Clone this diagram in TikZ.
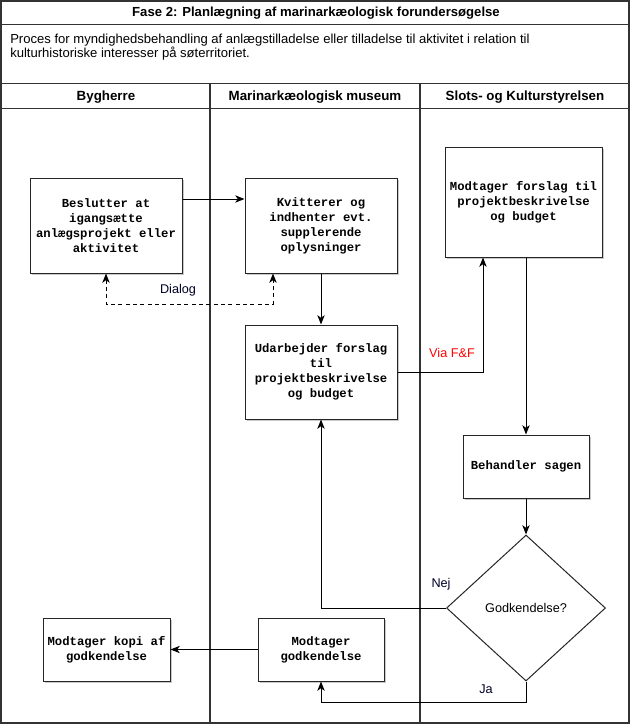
\documentclass[tikz,border=0pt]{standalone}
\usepackage{fontspec}
\setmainfont{Liberation Sans}
\newfontfamily\monofam{Liberation Mono}
\usetikzlibrary{arrows.meta,shadows,shapes.geometric}
\begin{document}
\begin{tikzpicture}[x=0.75pt,y=-0.75pt,
  frameline/.style={draw=black!80, line width=0.8pt},
  procbox/.style={draw=black!85, fill=white, line width=0.75pt, inner sep=0pt, align=center,
    font=\monofam\bfseries\fontsize{9.2}{11.25}\selectfont,
    drop shadow={shadow xshift=1.6pt, shadow yshift=-1.6pt, opacity=0.35, fill=black!60}},
  decision/.style={diamond, draw=black!85, fill=white, line width=0.75pt, inner sep=0pt,
    minimum width=119.25pt, minimum height=109.5pt, font=\fontsize{9.5}{11}\selectfont},
  lbl/.style={font=\fontsize{9.5}{11}\selectfont, text=black!85!blue, inner sep=0pt},
  hdr/.style={font=\bfseries\fontsize{10}{12}\selectfont, inner sep=0pt},
  arr/.style={draw=black, line width=0.75pt, -{Stealth[length=7pt,width=5.5pt,inset=2pt]}},
  dialog/.style={draw=black, line width=0.75pt, dash pattern=on 3pt off 2.5pt,
    {Stealth[length=7pt,width=5.5pt,inset=2pt]}-{Stealth[length=7pt,width=5.5pt,inset=2pt]}}
]
\useasboundingbox (0,0) rectangle (630,724);
\fill[white] (0,0) rectangle (630,724);
% frame and lanes
\draw[frameline] (1,1) rectangle (629,723);
\draw[frameline] (1,24.5) -- (629,24.5);
\draw[frameline] (1,83.5) -- (629,83.5);
\draw[frameline] (1,108.5) -- (629,108.5);
\draw[frameline] (210,83.5) -- (210,723);
\draw[frameline] (420,83.5) -- (420,723);
% texts
\node[hdr, font=\bfseries\fontsize{9.85}{12}\selectfont] (title) at (316,13.5) {Fase 2: Planlægning af marinarkæologisk forundersøgelse};
\node[anchor=west, align=left, inner sep=0pt, font=\fontsize{9.8}{10.5}\selectfont] (desc) at (10,47)
  {Proces for myndighedsbehandling af anlægstilladelse eller tilladelse til aktivitet i relation til\\kulturhistoriske interesser på søterritoriet.};
\node[hdr] (h1) at (106,97) {Bygherre};
\node[hdr] (h2) at (315,97) {Marinarkæologisk museum};
\node[hdr] (h3) at (525,97) {Slots- og Kulturstyrelsen};
% boxes
\node[procbox, minimum width=114pt, minimum height=71.25pt] (b1) at (106,225.5)
  {Beslutter at\\igangsætte\\anlægsprojekt eller\\aktivitet};
\node[procbox, minimum width=114pt, minimum height=71.25pt] (b2) at (321,225.5)
  {Kvitterer og\\indhenter evt.\\supplerende\\oplysninger};
\node[procbox, minimum width=114pt, minimum height=70.5pt] (b3) at (321,372)
  {Udarbejder forslag\\til\\projektbeskrivelse\\og budget};
\node[procbox, minimum width=117.75pt, minimum height=82.5pt] (b4) at (523.5,202)
  {Modtager forslag til\\projektbeskrivelse\\og budget};
\node[procbox, minimum width=94.5pt, minimum height=47.25pt] (b5) at (526,466.5)
  {Behandler sagen};
\node[decision] (dia) at (526,608) {Godkendelse?};
\node[procbox, minimum width=94.5pt, minimum height=47.25pt] (b6) at (321,649.5)
  {Modtager\\godkendelse};
\node[procbox, minimum width=95.25pt, minimum height=47.25pt] (b7) at (106.5,649.5)
  {Modtager kopi af\\godkendelse};
% connectors
\draw[arr] (b1.east |- 0,199) -- (b2.west |- 0,199);
\draw[dialog] (b1.south) -- (b1.south |- 0,304) -| (b2.south -| 273,0);
\node[lbl] (ldialog) at (178,290) {Dialog};
\draw[arr] (b2) -- (b3);
\draw[arr] (b3.east) -| (b4.south -| 483,0);
\node[lbl, text=red] (lvia) at (452,353) {Via F\&F};
\draw[arr] (b4.south -| b5.north) -- (b5.north);
\draw[arr] (b5) -- (dia);
\draw[arr] (dia.west) -| (b3.south);
\node[lbl] (lnej) at (441,584) {Nej};
\draw[arr] (dia.south) -- (dia.south |- 0,702) -| (b6.south);
\node[lbl] (lja) at (486,689) {Ja};
\draw[arr] (b6.west) -- (b7.east);
\end{tikzpicture}
\end{document}
